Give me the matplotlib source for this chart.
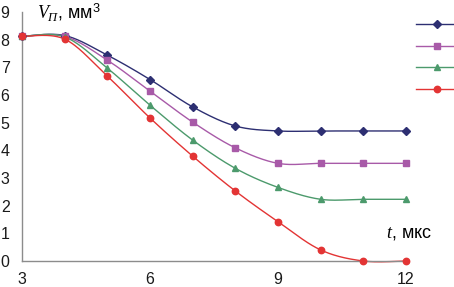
import numpy as np
import matplotlib
matplotlib.use("Agg")
import matplotlib.pyplot as plt
from matplotlib.lines import Line2D

plt.rcParams['font.family'] = ['Liberation Sans', 'DejaVu Sans']
plt.rcParams['mathtext.fontset'] = 'custom'
plt.rcParams['mathtext.rm'] = 'Liberation Sans'
plt.rcParams['mathtext.it'] = 'Liberation Serif:italic'

# data
t = [3, 4, 5, 6, 7, 8, 9, 10, 11, 12]
v1 = [8.12, 8.15, 7.44, 6.56, 5.57, 4.88, 4.70, 4.70, 4.70, 4.70]
v2 = [8.12, 8.12, 7.26, 6.14, 5.02, 4.09, 3.53, 3.53, 3.53, 3.53]
v3 = [8.12, 8.10, 6.97, 5.63, 4.37, 3.35, 2.66, 2.23, 2.23, 2.23]
v4 = [8.12, 8.02, 6.68, 5.17, 3.79, 2.53, 1.42, 0.40, 0.0, 0.0]
xticks = [3, 6, 9, 12]
yticks = [0, 1, 2, 3, 4, 5, 6, 7, 8, 9]

series = [
    (v1, '#2d2f72', 'D', 4.2),
    (v2, '#a85aa8', 's', 4.6),
    (v3, '#4c9a6c', '^', 5.0),
    (v4, '#e33434', 'o', 4.6),
]


def smooth(x, y, n=30):
    x = np.asarray(x, float)
    y = np.asarray(y, float)
    P = np.column_stack([x, y])
    out = []
    m = len(P)
    for i in range(m - 1):
        p0 = P[i - 1] if i > 0 else P[i]
        p1 = P[i]
        p2 = P[i + 1]
        p3 = P[i + 2] if i + 2 < m else P[i + 1]
        c1 = p1 + (p2 - p0) / 6.0
        c2 = p2 - (p3 - p1) / 6.0
        s = np.linspace(0, 1, n, endpoint=(i == m - 2))[:, None]
        seg = ((1 - s) ** 3) * p1 + 3 * ((1 - s) ** 2) * s * c1 + 3 * (1 - s) * s ** 2 * c2 + s ** 3 * p2
        out.append(seg)
    out = np.vstack(out)
    return out[:, 0], out[:, 1]


fig = plt.figure(figsize=(4.54, 2.87), dpi=100)
ax = fig.add_axes([22 / 454, 1 - 261 / 287, (406 - 22) / 454, (261 - 12) / 287])

handles = []
for vals, col, mk, ms in series:
    sx, sy = smooth(t, vals)
    ax.plot(sx, sy, color=col, lw=1.0, clip_on=False, zorder=2)
    ax.plot(t, vals, ls='none', marker=mk, color=col, ms=ms, clip_on=False, zorder=3)
    handles.append(Line2D([], [], color=col, lw=1.0, marker=mk, ms=ms))

ax.set_xlim(3, 12)
ax.set_ylim(0, 9)
ax.set_xticks(xticks)
ax.set_yticks(yticks)
ax.tick_params(length=0, labelsize=11.5, colors='#1a1a1a')
ax.tick_params(axis='x', pad=8)
ax.tick_params(axis='y', pad=9)
for s in ['top', 'right']:
    ax.spines[s].set_visible(False)
for s in ['left', 'bottom']:
    ax.spines[s].set_color('#8c8c8c')
    ax.spines[s].set_linewidth(1.0)

fig.text(37 / 454, 1 - 12 / 287, r'$V_{П}$, мм$^3$', fontsize=13, va='center', ha='left')
fig.text(386 / 454, 1 - 233 / 287, r'$t$, мкс', fontsize=13, va='center', ha='left')

leg = fig.legend(handles, ['', '', '', ''], loc='upper left',
                 bbox_to_anchor=(416 / 454, 1 - 18 / 287), frameon=False,
                 handlelength=2.6, handletextpad=0, borderaxespad=0, borderpad=0,
                 labelspacing=0.4, fontsize=11.5)

fig.savefig('out.png', dpi=100)
